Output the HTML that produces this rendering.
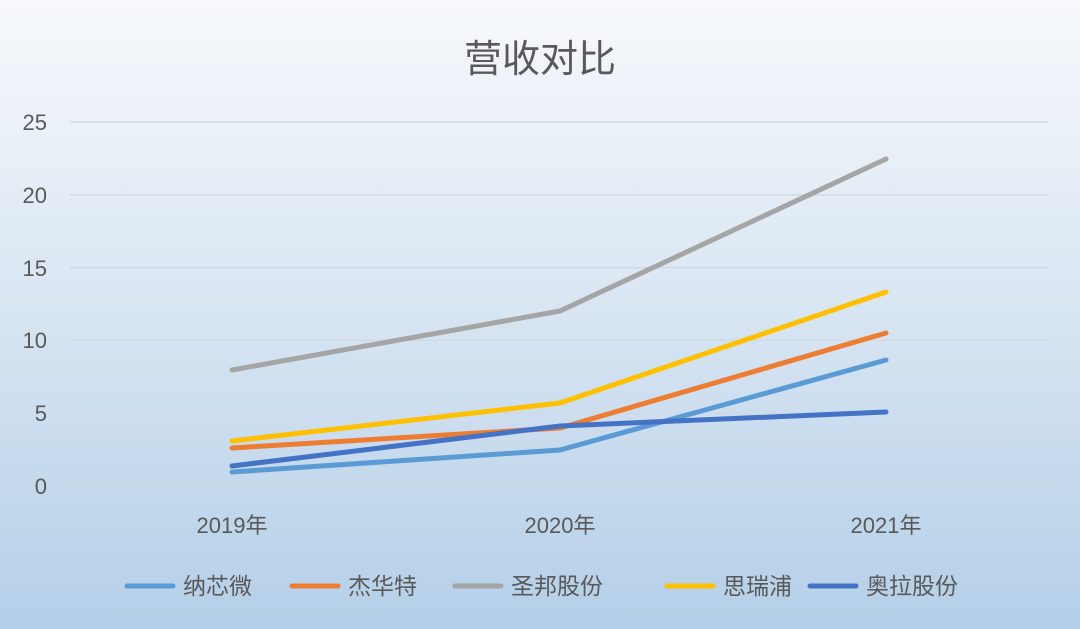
<!DOCTYPE html>
<html><head><meta charset="utf-8"><style>
html,body{margin:0;padding:0}
body{width:1080px;height:629px;overflow:hidden;background:linear-gradient(180deg,#f7f9fc 0%,#dbe7f3 45%,#b4cfe8 100%);font-family:"Liberation Sans","Noto Sans CJK SC",sans-serif}
</style></head><body>
<svg width="1080" height="629" xmlns="http://www.w3.org/2000/svg" style="position:absolute;left:0;top:0">
<text x="540" y="72" text-anchor="middle" font-size="38" fill="#595959" font-family="Liberation Sans,Noto Sans CJK SC,sans-serif">营收对比</text>
<g stroke="#d0d8e2" stroke-width="1.3">
<line x1="70" x2="1048" y1="122" y2="122"/><line x1="70" x2="1048" y1="194.8" y2="194.8"/>
<line x1="70" x2="1048" y1="267.6" y2="267.6"/><line x1="70" x2="1048" y1="340.4" y2="340.4"/>
<line x1="70" x2="1048" y1="413.2" y2="413.2"/><line x1="70" x2="1048" y1="486" y2="486"/>
</g>
<g font-size="22" fill="#595959" text-anchor="end" font-family="Liberation Sans,sans-serif">
<text x="47" y="130">25</text><text x="47" y="203">20</text><text x="47" y="276">15</text>
<text x="47" y="348">10</text><text x="47" y="421">5</text><text x="47" y="494">0</text>
</g>
<g font-size="22" fill="#595959" text-anchor="middle" font-family="Liberation Sans,Noto Sans CJK SC,sans-serif">
<text x="232" y="533">2019年</text><text x="560" y="533">2020年</text><text x="886" y="533">2021年</text>
</g>
<g fill="none" stroke-width="5" stroke-linecap="round" stroke-linejoin="round">
<polyline stroke="#a5a5a5" points="232,370 560,311 886,159"/>
<polyline stroke="#ffc000" points="232,441 560,403 886,292"/>
<polyline stroke="#ed7d31" points="232,448 560,428 886,333"/>
<polyline stroke="#5b9bd5" points="232,472 560,450 886,360"/>
<polyline stroke="#4472c4" points="232,466 560,426 886,412"/>
</g>
<g stroke-width="5" stroke-linecap="round">
<line x1="127" x2="173" y1="586" y2="586" stroke="#5b9bd5"/>
<line x1="292" x2="338" y1="586" y2="586" stroke="#ed7d31"/>
<line x1="455" x2="501" y1="586" y2="586" stroke="#a5a5a5"/>
<line x1="667" x2="713" y1="586" y2="586" stroke="#ffc000"/>
<line x1="810" x2="856" y1="586" y2="586" stroke="#4472c4"/>
</g>
<g font-size="23" fill="#595959" font-family="Liberation Sans,Noto Sans CJK SC,sans-serif">
<text x="183" y="594">纳芯微</text><text x="348" y="594">杰华特</text><text x="511" y="594">圣邦股份</text>
<text x="723" y="594">思瑞浦</text><text x="866" y="594">奥拉股份</text>
</g>
</svg>
</body></html>
